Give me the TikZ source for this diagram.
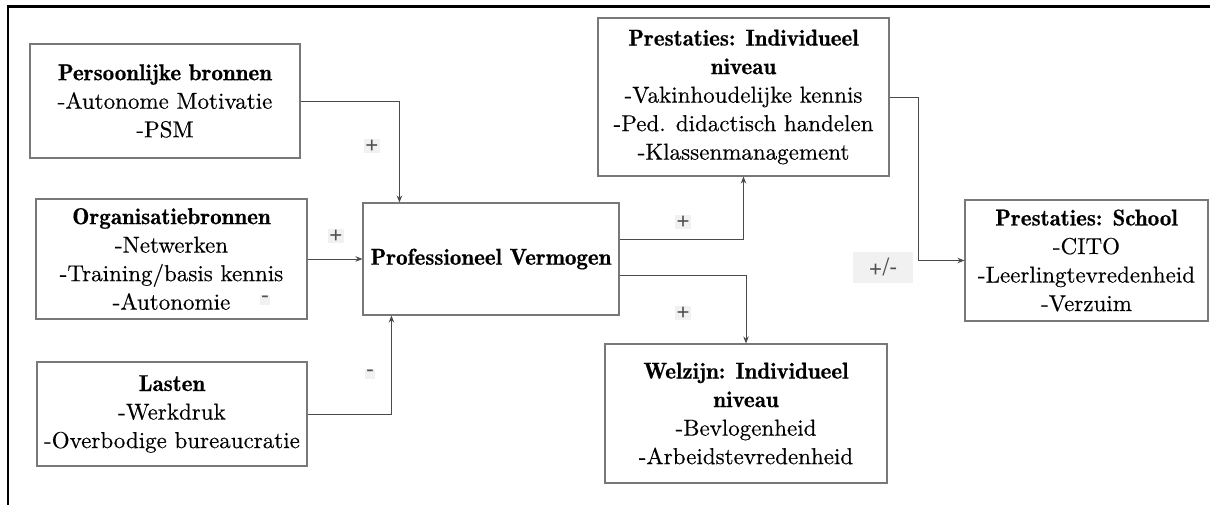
\documentclass[tikz,border=0pt]{standalone}
\usepackage{fontspec}
\setmainfont{lmroman10-regular.otf}[
  FakeBold=0.35,
  BoldFont=lmromandemi10-regular.otf,
  BoldFeatures={FakeBold=0.5}]
\newfontfamily\labelfont{TeX Gyre Heros}
\usetikzlibrary{arrows.meta}
\definecolor{boxline}{HTML}{787878}
\definecolor{connline}{HTML}{4A4A4A}
\definecolor{signbg}{HTML}{F1F1F1}
\definecolor{signfg}{HTML}{505050}
\tikzset{
  block/.style={draw=boxline, line width=1.1pt, rectangle, inner sep=0pt,
    align=center, font=\rmfamily\fontsize{23}{28.5}\selectfont},
  conn/.style={draw=connline, line width=0.9pt,
    -{Stealth[length=7pt,width=5.5pt]}},
  sign/.style={fill=signbg, text=signfg, inner sep=1pt,
    font=\labelfont\fontsize{24}{26}\selectfont},
  frameline/.style={draw=black, line width=2.4pt}
}
\begin{document}
\begin{tikzpicture}[x=1pt,y=-1pt]
\useasboundingbox (0,0) rectangle (1210,505);
\fill[white] (0,0) rectangle (1210,505);

% outer frame (top and left edges)
\draw[frameline] (8,505) -- (8,6.5) -- (1210,6.5);

% blocks
\node[block, minimum width=270pt, minimum height=114pt] (pers) at (165,101)
  {\textbf{Persoonlijke bronnen}\\-Autonome Motivatie\\-PSM};
\node[block, minimum width=271pt, minimum height=120pt] (org) at (171.5,259)
  {\textbf{Organisatiebronnen}\\-Netwerken\\-Training/basis kennis\\-Autonomie};
\node[block, minimum width=270pt, minimum height=104pt] (last) at (172,414)
  {\textbf{Lasten}\\-Werkdruk\\-Overbodige bureaucratie};
\node[block, minimum width=256pt, minimum height=112pt] (prof) at (491,259)
  {\textbf{Professioneel Vermogen}};
\node[block, minimum width=291pt, minimum height=158pt] (pind) at (743.5,97)
  {\textbf{Prestaties: Individueel}\\\textbf{niveau}\\-Vakinhoudelijke kennis\\-Ped. didactisch handelen\\-Klassenmanagement};
\node[block, minimum width=282pt, minimum height=139pt] (welz) at (746,413.5)
  {\textbf{Welzijn: Individueel}\\\textbf{niveau}\\-Bevlogenheid\\-Arbeidstevredenheid};
\node[block, minimum width=243pt, minimum height=121pt] (school) at (1086.5,260.5)
  {\textbf{Prestaties: School}\\-CITO\\-Leerlingtevredenheid\\-Verzuim};

% connectors
\draw[conn] (pers.east) -| ([xshift=37pt]prof.north west);
\draw[conn] (org.east) -- (prof.west);
\draw[conn] (last.east) -| ([xshift=29pt]prof.south west);
\draw[conn] ([yshift=20pt]prof.east) -| (pind.south);
\draw[conn] ([yshift=-16pt]prof.east) -| (welz.north);
\draw[conn] (pind.east) -- ++(29,0) |- (school.west);

% effect signs
\node[sign] (s1) at (372,146) {+};
\node[sign] (s2) at (336,236) {+};
\node[sign] (s3) at (265,300) {-};
\node[sign] (s4) at (370,374) {-};
\node[sign] (s5) at (683,222) {+};
\node[sign] (s6) at (683,313) {+};
\node[sign, minimum width=60pt, minimum height=31pt] (s7) at (883,267) {+/-};
\end{tikzpicture}
\end{document}
